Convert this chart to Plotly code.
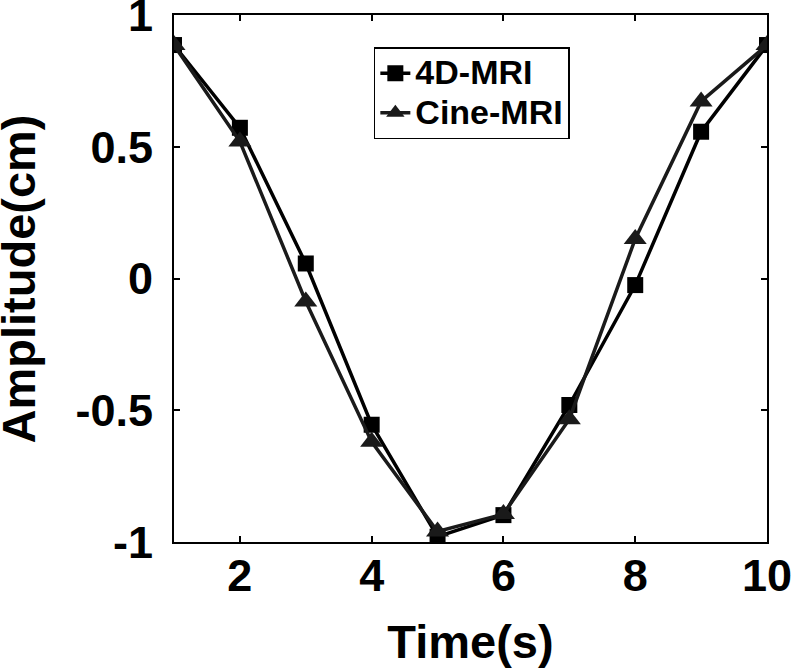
import plotly.graph_objects as go

time_s = [1, 2, 3, 4, 5, 6, 7, 8, 9, 10]
mri_4d = [0.886, 0.572, 0.057, -0.555, -0.98, -0.898, -0.48, -0.025, 0.557, 0.886]
cine_mri = [0.886, 0.52, -0.087, -0.62, -0.96, -0.894, -0.534, 0.15, 0.672, 0.886]

x_ticks = [2, 4, 6, 8, 10]
y_ticks = [-1, -0.5, 0, 0.5, 1]
y_tick_labels = ["-1", "-0.5", "0", "0.5", "1"]
series_names = ["4D-MRI", "Cine-MRI"]

FONT = "Liberation Sans, Arial, sans-serif"


def legend_label(s):
    return "<span style='font-size:34px'><b>%s</b></span>" % s


fig = go.Figure()
fig.add_trace(go.Scatter(
    x=time_s, y=mri_4d, name=legend_label(series_names[0]), mode="lines+markers",
    line=dict(color="#000000", width=3.5),
    marker=dict(symbol="square", size=16, color="#000000"),
))
fig.add_trace(go.Scatter(
    x=time_s, y=cine_mri, name=legend_label(series_names[1]), mode="lines+markers",
    line=dict(color="#1a1a1a", width=3.5),
    marker=dict(symbol="triangle-up", size=20, color="#1a1a1a"),
))

axis_common = dict(
    showline=True, linecolor="#000000", linewidth=2, mirror="ticks",
    ticks="inside", ticklen=6, tickwidth=1.5, tickcolor="#000000",
    showgrid=False, zeroline=False, automargin=False,
    ticklabeloverflow="allow",
    tickfont=dict(family=FONT, size=45, color="#000000"),
)

fig.update_layout(
    width=792, height=671,
    paper_bgcolor="white", plot_bgcolor="white",
    margin=dict(l=174, r=25, t=15, b=129),
    showlegend=True,
    legend=dict(
        x=0.337, y=0.939, xanchor="left", yanchor="top",
        bgcolor="white", bordercolor="#000000", borderwidth=1.5,
        font=dict(family=FONT, size=28, color="#000000"),
        itemwidth=30, tracegroupgap=0,
    ),
    xaxis=dict(
        range=[1, 10], tickvals=x_ticks, ticktext=["<b>%d</b>" % t for t in x_ticks],
        title=dict(text="<b>Time(s)</b>", font=dict(family=FONT, size=47, color="#000000"), standoff=25),
        ticklabelstandoff=-7,
        **axis_common,
    ),
    yaxis=dict(
        range=[-1, 1], tickvals=y_ticks, ticktext=["<b>%s</b>" % t for t in y_tick_labels],
        ticklabelstandoff=10,
        **axis_common,
    ),
    annotations=[dict(
        text="<b>Amplitude(cm)</b>", textangle=-90,
        xref="paper", yref="paper", x=-0.2614, y=0.5,
        xanchor="center", yanchor="middle", showarrow=False,
        font=dict(family=FONT, size=47, color="#000000"),
    )],
)

fig.write_html(
    "out.html",
    config={"displayModeBar": False},
    post_script="document.body.style.margin='0px';document.body.style.overflow='hidden';",
)
